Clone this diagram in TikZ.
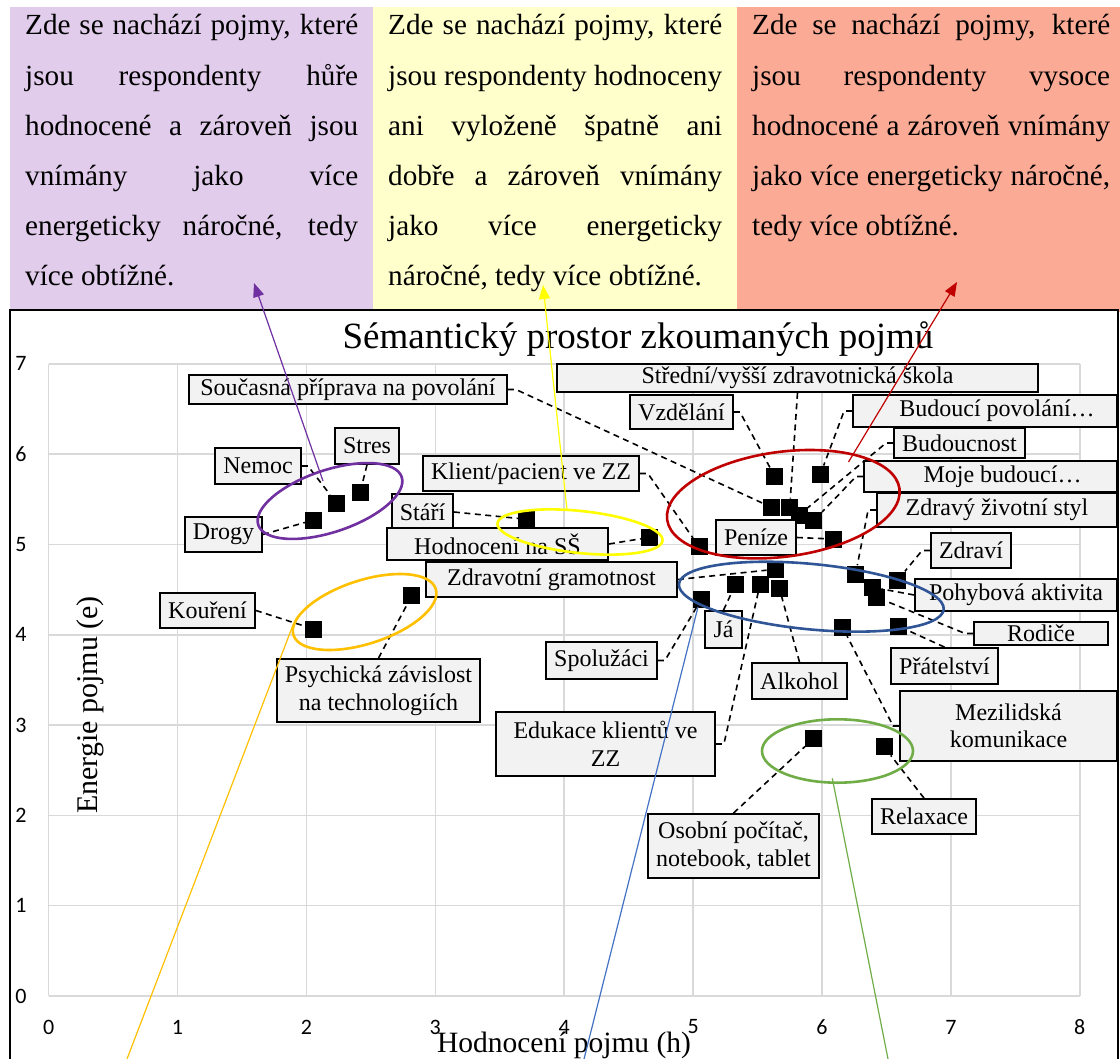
\documentclass[tikz,border=0pt]{standalone}
\usepackage{fontspec}
\setmainfont{Liberation Serif}
\newfontfamily\calib{Carlito}
\usetikzlibrary{arrows.meta}
\definecolor{purplebg}{HTML}{E1CCEC}
\definecolor{yellowbg}{HTML}{FFFFCC}
\definecolor{salmonbg}{HTML}{FBAA96}
\definecolor{boxgray}{HTML}{F2F2F2}
\definecolor{gridgray}{HTML}{D9D9D9}
\definecolor{purE}{HTML}{7030A0}
\definecolor{yelE}{HTML}{FFFF00}
\definecolor{redE}{HTML}{C00000}
\definecolor{bluE}{HTML}{2F5597}
\definecolor{bluL}{HTML}{4472C4}
\definecolor{orgE}{HTML}{FFC000}
\definecolor{grnE}{HTML}{70AD47}
\newcommand\lblfont{\fontsize{24}{27.5}\selectfont}
\newcommand\topfont{\fontsize{29.2}{50.2}\selectfont}
\newcommand\tickfont{\calib\fontsize{22}{24}\selectfont}
\newcommand\mkbox[6]{\node[lblbox, minimum width={(#4-#2)*1pt}, minimum height={(#5-#3)*1pt}] (#1) at ({(#2+#4)/2},{(#3+#5)/2}) {#6};}
\begin{document}
\begin{tikzpicture}[x=1pt,y=-1pt,
  lblbox/.style={draw=black,line width=1.8pt,fill=boxgray,inner sep=0pt,align=center,font=\lblfont},
  sq/.style={rectangle,fill=black,minimum size=17pt,inner sep=0pt},
  leader/.style={draw=black,line width=1.6pt,dash pattern=on 6pt off 4.5pt},
  ell/.style={line width=2.6pt},
  conn/.style={line width=1.2pt},
  tip/.style={-{Triangle[length=14pt,width=11pt]}},
  ticklbl/.style={font=\tickfont,inner sep=0pt},
  gl/.style={draw=gridgray,line width=1.5pt}]
\useasboundingbox (0,0) rectangle (1120,1059);
\clip (0,0) rectangle (1120,1059);
% top boxes
\fill[purplebg] (10,7) rectangle (373,312);
\fill[yellowbg] (373,7) rectangle (737,312);
\fill[salmonbg] (737,7) rectangle (1120,312);
\node[anchor=base west,inner sep=0pt] (tp) at (25,35) {\parbox[t]{333pt}{\topfont
\makebox[333pt][s]{Zde se nachází pojmy, které}\\
\makebox[333pt][s]{jsou respondenty hůře}\\
\makebox[333pt][s]{hodnocené a zároveň jsou}\\
\makebox[333pt][s]{vnímány jako více}\\
\makebox[333pt][s]{energeticky náročné, tedy}\\
více obtížné.}};
\node[anchor=base west,inner sep=0pt] (ty) at (388,35) {\parbox[t]{334pt}{\topfont
\makebox[334pt][s]{Zde se nachází pojmy, které}\\
\makebox[334pt][s]{jsou respondenty hodnoceny}\\
\makebox[334pt][s]{ani vyloženě špatně ani}\\
\makebox[334pt][s]{dobře a zároveň vnímány}\\
\makebox[334pt][s]{jako více energeticky}\\
náročné, tedy více obtížné.}};
\node[anchor=base west,inner sep=0pt] (ts) at (752,35) {\parbox[t]{358pt}{\topfont
\makebox[358pt][s]{Zde se nachází pojmy, které}\\
\makebox[358pt][s]{jsou respondenty vysoce}\\
\makebox[358pt][s]{hodnocené a zároveň vnímány}\\
\makebox[358pt][s]{jako více energeticky náročné,}\\
tedy více obtížné.}};
% chart frame
\fill[white] (10,310) rectangle (1118,1059);
\draw[line width=2pt] (10,1059) -- (10,310) -- (1118,310) -- (1118,1059);
% grid
\foreach \i in {0,...,8} { \draw[gl] ({48.6+128.9*\i},996) -- ({48.6+128.9*\i},363.9); }
\foreach \j in {0,...,7} { \draw[gl] (48.6,{996-90.3*\j}) -- (1080,{996-90.3*\j}); }
\foreach \i in {0,...,8} { \node[ticklbl] (xt\i) at ({48.6+128.9*\i},1027) {\i}; }
\foreach \j in {0,...,7} { \node[ticklbl] (yt\j) at (21,{996-90.3*\j}) {\j}; }
\node[font=\fontsize{37}{40}\selectfont,anchor=base,inner sep=0pt] (title) at (638,349) {Sémantický prostor zkoumaných pojmů};
\node[font=\fontsize{29.5}{32}\selectfont,anchor=base,inner sep=0pt] (xtitle) at (564,1052) {Hodnocení pojmu (h)};
\node[font=\fontsize{30}{32}\selectfont,anchor=base,inner sep=0pt,rotate=90] (ytitle) at (97,705) {Energie pojmu (e)};
% points
\node[sq] (pdrogy) at (313.6,520) {};
\node[sq] (pnemoc) at (336.8,503.3) {};
\node[sq] (pstres) at (360,492.7) {};
\node[sq] (pstari) at (526.8,519.3) {};
\node[sq] (pkour) at (313.6,629) {};
\node[sq] (ppsych) at (411.8,595.7) {};
\node[sq] (pss) at (649.5,537.3) {};
\node[sq] (pvzdel) at (774.9,476.7) {};
\node[sq] (pbudpov) at (820.4,474.3) {};
\node[sq] (psoucas) at (771.6,507.3) {};
\node[sq] (pstred) at (789.7,507.3) {};
\node[sq] (pbudouc) at (799,515) {};
\node[sq] (pmoje) at (813.8,520.7) {};
\node[sq] (ppenize) at (833,539) {};
\node[sq] (pklient) at (699,546.7) {};
\node[sq] (pgram) at (775.3,569.3) {};
\node[sq] (pja) at (735.7,584) {};
\node[sq] (peduk) at (760.1,584) {};
\node[sq] (palk) at (779.4,588.3) {};
\node[sq] (pspol) at (701.3,599.3) {};
\node[sq] (pzdravy) at (855.6,574) {};
\node[sq] (ppohyb) at (872.7,587.3) {};
\node[sq] (prodice) at (876.7,597.3) {};
\node[sq] (pzdravi) at (897.7,580) {};
\node[sq] (pmezi) at (842.6,627.3) {};
\node[sq] (pprat) at (898.1,626) {};
\node[sq] (posob) at (813.8,738.3) {};
\node[sq] (prelax) at (884,746.7) {};
% label boxes
\mkbox{lsoucas}{189}{375}{507}{404}{Současná příprava na povolání}
\mkbox{lnemoc}{215}{448}{301}{484}{Nemoc}
\mkbox{lstres}{335}{428}{399}{464}{Stres}
\mkbox{ldrogy}{185}{517}{262}{552}{Drogy}
\mkbox{lstari}{392}{494}{453}{530}{Stáří}
\mkbox{lss}{387}{528}{608}{560}{Hodnocení na SŠ}
\mkbox{lklient}{423}{456}{639}{491}{Klient/pacient ve ZZ}
\mkbox{lgram}{426}{562}{677}{597}{Zdravotní gramotnost}
\mkbox{lkour}{160}{593}{255}{628}{Kouření}
\mkbox{lpsych}{277}{659}{480}{722}{Psychická závislost\\na technologiích}
\mkbox{lstred}{557}{364}{1038}{392}{Střední/vyšší zdravotnická škola}
\mkbox{lvzdel}{630}{395}{733}{429}{Vzdělání}
\mkbox{lbudpov}{853}{395}{1117}{427}{\hspace*{24pt}Budoucí povolání…}
\mkbox{lbudouc}{894}{428}{1025}{458}{Budoucnost}
\mkbox{lmoje}{864}{461}{1117}{492}{\hspace*{24pt}Moje budoucí…}
\mkbox{lzdravy}{877}{493}{1117}{527}{Zdravý životní styl}
\mkbox{lpenize}{716}{520}{796}{555}{Peníze}
\mkbox{lzdravi}{931}{533}{1011}{568}{Zdraví}
\mkbox{lpohyb}{915}{579}{1117}{611}{Pohybová aktivita}
\mkbox{lrodice}{974}{622}{1108}{645}{Rodiče}
\mkbox{lprat}{891}{648}{998}{684}{Přátelství}
\mkbox{lja}{705}{611}{742}{648}{Já}
\mkbox{lspol}{546}{642}{657}{679}{Spolužáci}
\mkbox{lalk}{752}{663}{847}{699}{Alkohol}
\mkbox{leduk}{496}{712}{715}{776}{Edukace klientů ve\\ZZ}
\mkbox{lmezi}{900}{691}{1117}{761}{Mezilidská\\komunikace}
\mkbox{lrelax}{872}{799}{976}{834}{Relaxace}
\mkbox{losob}{648}{814}{819}{878}{Osobní počítač,\\notebook, tablet}
% leaders
\draw[leader] (lsoucas.east) -- ++(8,0) -- (psoucas);
\draw[leader] (lnemoc.east) -- ++(6,0) -- (pnemoc);
\draw[leader] (lstres.south) -- (pstres);
\draw[leader] (ldrogy.east) -- (pdrogy);
\draw[leader] (lstari.east) -- (pstari);
\draw[leader] (lss.east) -- (pss);
\draw[leader] (lklient.east) -- ++(8,0) -- (pklient);
\draw[leader] (lgram.east) -- (pgram);
\draw[leader] (lkour.east) -- (pkour);
\draw[leader] (lpsych.north) -- (ppsych);
\draw[leader] (lstred.south) -- (pstred);
\draw[leader] (lvzdel.east) -- ++(6,0) -- (pvzdel);
\draw[leader] (lbudpov.west) -- ++(-8,0) -- (pbudpov);
\draw[leader] (lbudouc.west) -- ++(-7,0) -- (pbudouc);
\draw[leader] (lmoje.west) -- ++(-7,0) -- (pmoje);
\draw[leader] (lzdravy.west) -- ++(-8,0) -- (pzdravy);
\draw[leader] (lpenize.east) -- (ppenize);
\draw[leader] (lzdravi.west) -- ++(-8,0) -- (pzdravi);
\draw[leader] (lpohyb.west) -- (ppohyb);
\draw[leader] (lrodice.west) -- ++(-8,0) -- (prodice);
\draw[leader] (lprat.north) -- (pprat);
\draw[leader] (lja.north) -- (pja);
\draw[leader] (lspol.east) -- ++(7,0) -- (pspol);
\draw[leader] (lalk.north) -- (palk);
\draw[leader] (leduk.east) -- ++(8,0) -- (peduk);
\draw[leader] (lmezi.west) -- ++(-6,0) -- (pmezi);
\draw[leader] (lrelax.north) -- (prelax);
\draw[leader] (losob.north) -- (posob);
% ellipses
\draw[ell,purE,rotate around={18.5:(330,501)}] (330,501) ellipse [x radius=75.6,y radius=31];
\draw[ell,yelE,rotate around={-6:(580,532)}] (580,532) ellipse [x radius=83,y radius=21];
\draw[ell,redE,rotate around={7.6:(783.3,504.2)}] (783.3,504.2) ellipse [x radius=117.2,y radius=52.4];
\draw[ell,bluE,rotate around={-5.5:(811.3,596.7)}] (811.3,596.7) ellipse [x radius=133,y radius=32.7];
\draw[ell,orgE,rotate around={18:(364.6,612)}] (364.6,612) ellipse [x radius=74.8,y radius=31.7];
\draw[ell,grnE] (837.5,751) ellipse [x radius=75.5,y radius=31.7];
% connectors to the text boxes
\coordinate (ca1) at (323,481); \coordinate (ca2) at (254,283);
\coordinate (cy1) at (567,510); \coordinate (cy2) at (543,285);
\coordinate (cr1) at (848.5,462); \coordinate (cr2) at (957,282);
\coordinate (co1) at (293,625); \coordinate (co2) at (127,1059);
\coordinate (cb1) at (698,607); \coordinate (cb2) at (584,1059);
\coordinate (cg1) at (832.3,778.3); \coordinate (cg2) at (888,1059);
\draw[conn,purE,tip] (ca1) -- (ca2);
\draw[conn,yelE,tip] (cy1) -- (cy2);
\draw[conn,redE,tip] (cr1) -- (cr2);
\draw[conn,orgE] (co1) -- (co2);
\draw[conn,bluL] (cb1) -- (cb2);
\draw[conn,grnE] (cg1) -- (cg2);
\end{tikzpicture}
\end{document}
